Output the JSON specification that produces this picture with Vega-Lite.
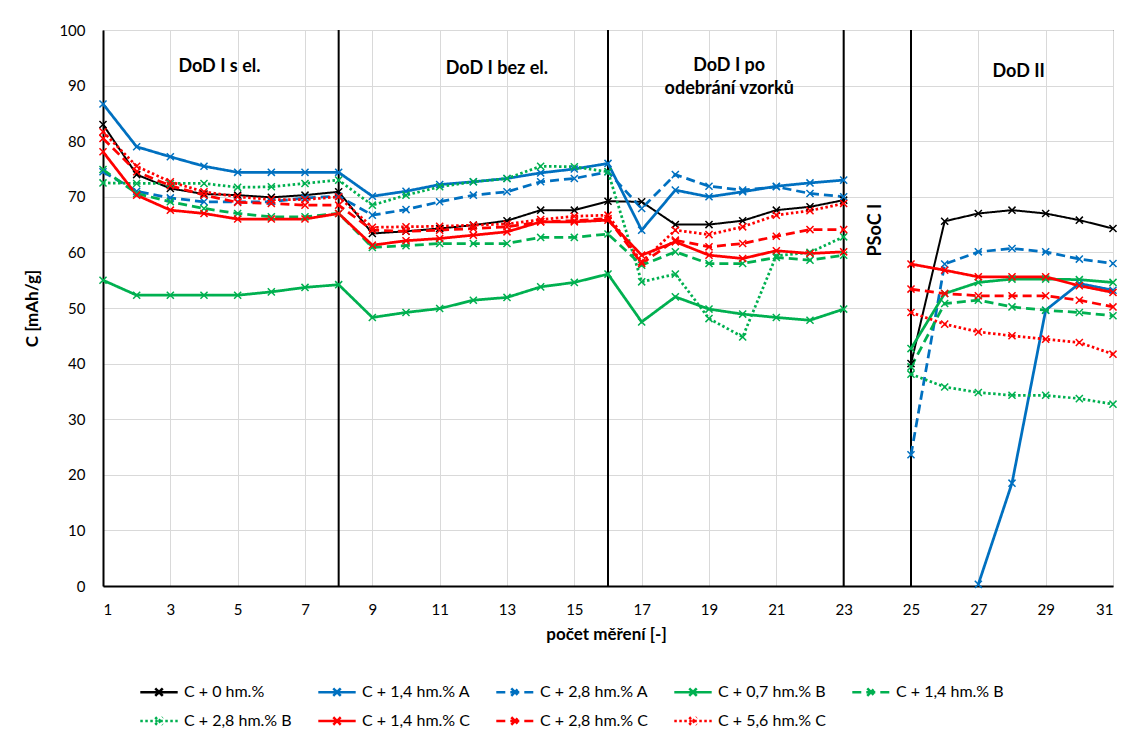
{
  "$schema": "https://vega.github.io/schema/vega-lite/v6.json",
  "width": 1010,
  "height": 556,
  "autosize": {"type": "none"},
  "padding": {"left": 103, "top": 30, "right": 16, "bottom": 150},
  "background": "white",
  "config": {
    "font": "Lato",
    "view": {"stroke": "#000", "strokeWidth": 1},
    "axis": {
      "labelFont": "Lato", "labelFontSize": 15, "labelColor": "#000",
      "titleFont": "Lato", "titleFontSize": 17, "titleFontWeight": "bold", "titleColor": "#000",
      "gridColor": "#D9D9D9", "gridWidth": 1, "domainColor": "#000", "domainWidth": 2, "ticks": false
    }
  },
  "layer": [
    {
      "data": {"values": [{"x": 8}, {"x": 16}, {"x": 23}, {"x": 25}]},
      "mark": {"type": "rule", "color": "#000", "strokeWidth": 2},
      "encoding": {"x": {"field": "x", "type": "quantitative", "scale": {"domain": [1, 31], "nice": false, "zero": false}}}
    },
    {
      "data": {"values": [
        {"s":"C + 0 hm.%","x":1,"y":83},{"s":"C + 0 hm.%","x":2,"y":74},{"s":"C + 0 hm.%","x":3,"y":71.5},{"s":"C + 0 hm.%","x":4,"y":70.5},{"s":"C + 0 hm.%","x":5,"y":70.3},{"s":"C + 0 hm.%","x":6,"y":69.9},{"s":"C + 0 hm.%","x":7,"y":70.3},{"s":"C + 0 hm.%","x":8,"y":70.9},{"s":"C + 0 hm.%","x":9,"y":63.4},{"s":"C + 0 hm.%","x":10,"y":63.8},{"s":"C + 0 hm.%","x":11,"y":64.3},{"s":"C + 0 hm.%","x":12,"y":64.9},{"s":"C + 0 hm.%","x":13,"y":65.7},{"s":"C + 0 hm.%","x":14,"y":67.6},{"s":"C + 0 hm.%","x":15,"y":67.6},{"s":"C + 0 hm.%","x":16,"y":69.2},{"s":"C + 0 hm.%","x":17,"y":69.1},{"s":"C + 0 hm.%","x":18,"y":65},{"s":"C + 0 hm.%","x":19,"y":65},{"s":"C + 0 hm.%","x":20,"y":65.7},{"s":"C + 0 hm.%","x":21,"y":67.6},{"s":"C + 0 hm.%","x":22,"y":68.2},{"s":"C + 0 hm.%","x":23,"y":69.4},{"s":"C + 0 hm.%","x":24,"y":null},{"s":"C + 0 hm.%","x":25,"y":40},{"s":"C + 0 hm.%","x":26,"y":65.6},{"s":"C + 0 hm.%","x":27,"y":67},{"s":"C + 0 hm.%","x":28,"y":67.6},{"s":"C + 0 hm.%","x":29,"y":67},{"s":"C + 0 hm.%","x":30,"y":65.8},{"s":"C + 0 hm.%","x":31,"y":64.3},
        {"s":"C + 1,4 hm.% A","x":1,"y":86.7},{"s":"C + 1,4 hm.% A","x":2,"y":79},{"s":"C + 1,4 hm.% A","x":3,"y":77.2},{"s":"C + 1,4 hm.% A","x":4,"y":75.5},{"s":"C + 1,4 hm.% A","x":5,"y":74.4},{"s":"C + 1,4 hm.% A","x":6,"y":74.4},{"s":"C + 1,4 hm.% A","x":7,"y":74.4},{"s":"C + 1,4 hm.% A","x":8,"y":74.4},{"s":"C + 1,4 hm.% A","x":9,"y":70.1},{"s":"C + 1,4 hm.% A","x":10,"y":71},{"s":"C + 1,4 hm.% A","x":11,"y":72.2},{"s":"C + 1,4 hm.% A","x":12,"y":72.7},{"s":"C + 1,4 hm.% A","x":13,"y":73.3},{"s":"C + 1,4 hm.% A","x":14,"y":74.3},{"s":"C + 1,4 hm.% A","x":15,"y":75},{"s":"C + 1,4 hm.% A","x":16,"y":76},{"s":"C + 1,4 hm.% A","x":17,"y":64},{"s":"C + 1,4 hm.% A","x":18,"y":71.2},{"s":"C + 1,4 hm.% A","x":19,"y":70},{"s":"C + 1,4 hm.% A","x":20,"y":70.9},{"s":"C + 1,4 hm.% A","x":21,"y":71.9},{"s":"C + 1,4 hm.% A","x":22,"y":72.5},{"s":"C + 1,4 hm.% A","x":23,"y":73},{"s":"C + 1,4 hm.% A","x":24,"y":null},{"s":"C + 1,4 hm.% A","x":25,"y":null},{"s":"C + 1,4 hm.% A","x":26,"y":null},{"s":"C + 1,4 hm.% A","x":27,"y":0.3},{"s":"C + 1,4 hm.% A","x":28,"y":18.5},{"s":"C + 1,4 hm.% A","x":29,"y":49.6},{"s":"C + 1,4 hm.% A","x":30,"y":54.4},{"s":"C + 1,4 hm.% A","x":31,"y":53.2},
        {"s":"C + 2,8 hm.% A","x":1,"y":74.5},{"s":"C + 2,8 hm.% A","x":2,"y":71},{"s":"C + 2,8 hm.% A","x":3,"y":69.8},{"s":"C + 2,8 hm.% A","x":4,"y":69.1},{"s":"C + 2,8 hm.% A","x":5,"y":69.1},{"s":"C + 2,8 hm.% A","x":6,"y":69.1},{"s":"C + 2,8 hm.% A","x":7,"y":69.8},{"s":"C + 2,8 hm.% A","x":8,"y":70.1},{"s":"C + 2,8 hm.% A","x":9,"y":66.7},{"s":"C + 2,8 hm.% A","x":10,"y":67.7},{"s":"C + 2,8 hm.% A","x":11,"y":69.1},{"s":"C + 2,8 hm.% A","x":12,"y":70.3},{"s":"C + 2,8 hm.% A","x":13,"y":70.9},{"s":"C + 2,8 hm.% A","x":14,"y":72.7},{"s":"C + 2,8 hm.% A","x":15,"y":73.3},{"s":"C + 2,8 hm.% A","x":16,"y":74.5},{"s":"C + 2,8 hm.% A","x":17,"y":67.9},{"s":"C + 2,8 hm.% A","x":18,"y":74},{"s":"C + 2,8 hm.% A","x":19,"y":71.9},{"s":"C + 2,8 hm.% A","x":20,"y":71.2},{"s":"C + 2,8 hm.% A","x":21,"y":71.8},{"s":"C + 2,8 hm.% A","x":22,"y":70.6},{"s":"C + 2,8 hm.% A","x":23,"y":70},{"s":"C + 2,8 hm.% A","x":24,"y":null},{"s":"C + 2,8 hm.% A","x":25,"y":23.6},{"s":"C + 2,8 hm.% A","x":26,"y":57.9},{"s":"C + 2,8 hm.% A","x":27,"y":60.1},{"s":"C + 2,8 hm.% A","x":28,"y":60.7},{"s":"C + 2,8 hm.% A","x":29,"y":60.1},{"s":"C + 2,8 hm.% A","x":30,"y":58.8},{"s":"C + 2,8 hm.% A","x":31,"y":58},
        {"s":"C + 0,7 hm.% B","x":1,"y":55},{"s":"C + 0,7 hm.% B","x":2,"y":52.3},{"s":"C + 0,7 hm.% B","x":3,"y":52.3},{"s":"C + 0,7 hm.% B","x":4,"y":52.3},{"s":"C + 0,7 hm.% B","x":5,"y":52.3},{"s":"C + 0,7 hm.% B","x":6,"y":52.9},{"s":"C + 0,7 hm.% B","x":7,"y":53.7},{"s":"C + 0,7 hm.% B","x":8,"y":54.2},{"s":"C + 0,7 hm.% B","x":9,"y":48.3},{"s":"C + 0,7 hm.% B","x":10,"y":49.2},{"s":"C + 0,7 hm.% B","x":11,"y":49.9},{"s":"C + 0,7 hm.% B","x":12,"y":51.4},{"s":"C + 0,7 hm.% B","x":13,"y":51.9},{"s":"C + 0,7 hm.% B","x":14,"y":53.8},{"s":"C + 0,7 hm.% B","x":15,"y":54.6},{"s":"C + 0,7 hm.% B","x":16,"y":56.1},{"s":"C + 0,7 hm.% B","x":17,"y":47.5},{"s":"C + 0,7 hm.% B","x":18,"y":52},{"s":"C + 0,7 hm.% B","x":19,"y":49.8},{"s":"C + 0,7 hm.% B","x":20,"y":48.9},{"s":"C + 0,7 hm.% B","x":21,"y":48.3},{"s":"C + 0,7 hm.% B","x":22,"y":47.8},{"s":"C + 0,7 hm.% B","x":23,"y":49.8},{"s":"C + 0,7 hm.% B","x":24,"y":null},{"s":"C + 0,7 hm.% B","x":25,"y":42.7},{"s":"C + 0,7 hm.% B","x":26,"y":52.6},{"s":"C + 0,7 hm.% B","x":27,"y":54.6},{"s":"C + 0,7 hm.% B","x":28,"y":55.2},{"s":"C + 0,7 hm.% B","x":29,"y":55.2},{"s":"C + 0,7 hm.% B","x":30,"y":55.1},{"s":"C + 0,7 hm.% B","x":31,"y":54.6},
        {"s":"C + 1,4 hm.% B","x":1,"y":74.9},{"s":"C + 1,4 hm.% B","x":2,"y":70.6},{"s":"C + 1,4 hm.% B","x":3,"y":69.1},{"s":"C + 1,4 hm.% B","x":4,"y":67.9},{"s":"C + 1,4 hm.% B","x":5,"y":67},{"s":"C + 1,4 hm.% B","x":6,"y":66.4},{"s":"C + 1,4 hm.% B","x":7,"y":66.4},{"s":"C + 1,4 hm.% B","x":8,"y":67},{"s":"C + 1,4 hm.% B","x":9,"y":60.9},{"s":"C + 1,4 hm.% B","x":10,"y":61.2},{"s":"C + 1,4 hm.% B","x":11,"y":61.6},{"s":"C + 1,4 hm.% B","x":12,"y":61.6},{"s":"C + 1,4 hm.% B","x":13,"y":61.6},{"s":"C + 1,4 hm.% B","x":14,"y":62.7},{"s":"C + 1,4 hm.% B","x":15,"y":62.7},{"s":"C + 1,4 hm.% B","x":16,"y":63.3},{"s":"C + 1,4 hm.% B","x":17,"y":57.7},{"s":"C + 1,4 hm.% B","x":18,"y":60.1},{"s":"C + 1,4 hm.% B","x":19,"y":58},{"s":"C + 1,4 hm.% B","x":20,"y":58},{"s":"C + 1,4 hm.% B","x":21,"y":59.1},{"s":"C + 1,4 hm.% B","x":22,"y":58.6},{"s":"C + 1,4 hm.% B","x":23,"y":59.5},{"s":"C + 1,4 hm.% B","x":24,"y":null},{"s":"C + 1,4 hm.% B","x":25,"y":39.4},{"s":"C + 1,4 hm.% B","x":26,"y":50.8},{"s":"C + 1,4 hm.% B","x":27,"y":51.4},{"s":"C + 1,4 hm.% B","x":28,"y":50.2},{"s":"C + 1,4 hm.% B","x":29,"y":49.6},{"s":"C + 1,4 hm.% B","x":30,"y":49.2},{"s":"C + 1,4 hm.% B","x":31,"y":48.6},
        {"s":"C + 2,8 hm.% B","x":1,"y":72.5},{"s":"C + 2,8 hm.% B","x":2,"y":72.4},{"s":"C + 2,8 hm.% B","x":3,"y":72.4},{"s":"C + 2,8 hm.% B","x":4,"y":72.4},{"s":"C + 2,8 hm.% B","x":5,"y":71.7},{"s":"C + 2,8 hm.% B","x":6,"y":71.8},{"s":"C + 2,8 hm.% B","x":7,"y":72.4},{"s":"C + 2,8 hm.% B","x":8,"y":73},{"s":"C + 2,8 hm.% B","x":9,"y":68.5},{"s":"C + 2,8 hm.% B","x":10,"y":70.3},{"s":"C + 2,8 hm.% B","x":11,"y":71.8},{"s":"C + 2,8 hm.% B","x":12,"y":72.7},{"s":"C + 2,8 hm.% B","x":13,"y":73.3},{"s":"C + 2,8 hm.% B","x":14,"y":75.5},{"s":"C + 2,8 hm.% B","x":15,"y":75.4},{"s":"C + 2,8 hm.% B","x":16,"y":74.5},{"s":"C + 2,8 hm.% B","x":17,"y":54.7},{"s":"C + 2,8 hm.% B","x":18,"y":56.1},{"s":"C + 2,8 hm.% B","x":19,"y":48.1},{"s":"C + 2,8 hm.% B","x":20,"y":44.8},{"s":"C + 2,8 hm.% B","x":21,"y":59.4},{"s":"C + 2,8 hm.% B","x":22,"y":60},{"s":"C + 2,8 hm.% B","x":23,"y":62.8},{"s":"C + 2,8 hm.% B","x":24,"y":null},{"s":"C + 2,8 hm.% B","x":25,"y":38.1},{"s":"C + 2,8 hm.% B","x":26,"y":35.8},{"s":"C + 2,8 hm.% B","x":27,"y":34.8},{"s":"C + 2,8 hm.% B","x":28,"y":34.3},{"s":"C + 2,8 hm.% B","x":29,"y":34.3},{"s":"C + 2,8 hm.% B","x":30,"y":33.7},{"s":"C + 2,8 hm.% B","x":31,"y":32.7},
        {"s":"C + 1,4 hm.% C","x":1,"y":78.1},{"s":"C + 1,4 hm.% C","x":2,"y":70.3},{"s":"C + 1,4 hm.% C","x":3,"y":67.6},{"s":"C + 1,4 hm.% C","x":4,"y":67},{"s":"C + 1,4 hm.% C","x":5,"y":66},{"s":"C + 1,4 hm.% C","x":6,"y":66},{"s":"C + 1,4 hm.% C","x":7,"y":66},{"s":"C + 1,4 hm.% C","x":8,"y":67},{"s":"C + 1,4 hm.% C","x":9,"y":61.3},{"s":"C + 1,4 hm.% C","x":10,"y":62.1},{"s":"C + 1,4 hm.% C","x":11,"y":62.5},{"s":"C + 1,4 hm.% C","x":12,"y":63.1},{"s":"C + 1,4 hm.% C","x":13,"y":63.7},{"s":"C + 1,4 hm.% C","x":14,"y":65.5},{"s":"C + 1,4 hm.% C","x":15,"y":65.5},{"s":"C + 1,4 hm.% C","x":16,"y":65.8},{"s":"C + 1,4 hm.% C","x":17,"y":59.5},{"s":"C + 1,4 hm.% C","x":18,"y":61.9},{"s":"C + 1,4 hm.% C","x":19,"y":59.5},{"s":"C + 1,4 hm.% C","x":20,"y":58.9},{"s":"C + 1,4 hm.% C","x":21,"y":60.3},{"s":"C + 1,4 hm.% C","x":22,"y":59.8},{"s":"C + 1,4 hm.% C","x":23,"y":60.1},{"s":"C + 1,4 hm.% C","x":24,"y":null},{"s":"C + 1,4 hm.% C","x":25,"y":57.9},{"s":"C + 1,4 hm.% C","x":26,"y":56.8},{"s":"C + 1,4 hm.% C","x":27,"y":55.6},{"s":"C + 1,4 hm.% C","x":28,"y":55.6},{"s":"C + 1,4 hm.% C","x":29,"y":55.6},{"s":"C + 1,4 hm.% C","x":30,"y":54},{"s":"C + 1,4 hm.% C","x":31,"y":52.8},
        {"s":"C + 2,8 hm.% C","x":1,"y":80.5},{"s":"C + 2,8 hm.% C","x":2,"y":74.5},{"s":"C + 2,8 hm.% C","x":3,"y":72},{"s":"C + 2,8 hm.% C","x":4,"y":70.3},{"s":"C + 2,8 hm.% C","x":5,"y":69},{"s":"C + 2,8 hm.% C","x":6,"y":68.8},{"s":"C + 2,8 hm.% C","x":7,"y":68.5},{"s":"C + 2,8 hm.% C","x":8,"y":68.5},{"s":"C + 2,8 hm.% C","x":9,"y":64},{"s":"C + 2,8 hm.% C","x":10,"y":63.8},{"s":"C + 2,8 hm.% C","x":11,"y":64},{"s":"C + 2,8 hm.% C","x":12,"y":64.3},{"s":"C + 2,8 hm.% C","x":13,"y":64.6},{"s":"C + 2,8 hm.% C","x":14,"y":65.5},{"s":"C + 2,8 hm.% C","x":15,"y":65.7},{"s":"C + 2,8 hm.% C","x":16,"y":66.1},{"s":"C + 2,8 hm.% C","x":17,"y":58},{"s":"C + 2,8 hm.% C","x":18,"y":62.2},{"s":"C + 2,8 hm.% C","x":19,"y":61},{"s":"C + 2,8 hm.% C","x":20,"y":61.6},{"s":"C + 2,8 hm.% C","x":21,"y":62.9},{"s":"C + 2,8 hm.% C","x":22,"y":64.1},{"s":"C + 2,8 hm.% C","x":23,"y":64.1},{"s":"C + 2,8 hm.% C","x":24,"y":null},{"s":"C + 2,8 hm.% C","x":25,"y":53.4},{"s":"C + 2,8 hm.% C","x":26,"y":52.6},{"s":"C + 2,8 hm.% C","x":27,"y":52.2},{"s":"C + 2,8 hm.% C","x":28,"y":52.2},{"s":"C + 2,8 hm.% C","x":29,"y":52.2},{"s":"C + 2,8 hm.% C","x":30,"y":51.4},{"s":"C + 2,8 hm.% C","x":31,"y":50.2},
        {"s":"C + 5,6 hm.% C","x":1,"y":81.7},{"s":"C + 5,6 hm.% C","x":2,"y":75.5},{"s":"C + 5,6 hm.% C","x":3,"y":72.7},{"s":"C + 5,6 hm.% C","x":4,"y":70.9},{"s":"C + 5,6 hm.% C","x":5,"y":70},{"s":"C + 5,6 hm.% C","x":6,"y":69.5},{"s":"C + 5,6 hm.% C","x":7,"y":69.5},{"s":"C + 5,6 hm.% C","x":8,"y":70},{"s":"C + 5,6 hm.% C","x":9,"y":64.5},{"s":"C + 5,6 hm.% C","x":10,"y":64.6},{"s":"C + 5,6 hm.% C","x":11,"y":64.7},{"s":"C + 5,6 hm.% C","x":12,"y":64.9},{"s":"C + 5,6 hm.% C","x":13,"y":65.1},{"s":"C + 5,6 hm.% C","x":14,"y":65.9},{"s":"C + 5,6 hm.% C","x":15,"y":66.5},{"s":"C + 5,6 hm.% C","x":16,"y":66.7},{"s":"C + 5,6 hm.% C","x":17,"y":58.3},{"s":"C + 5,6 hm.% C","x":18,"y":64},{"s":"C + 5,6 hm.% C","x":19,"y":63.2},{"s":"C + 5,6 hm.% C","x":20,"y":64.6},{"s":"C + 5,6 hm.% C","x":21,"y":66.7},{"s":"C + 5,6 hm.% C","x":22,"y":67.5},{"s":"C + 5,6 hm.% C","x":23,"y":68.8},{"s":"C + 5,6 hm.% C","x":24,"y":null},{"s":"C + 5,6 hm.% C","x":25,"y":49.2},{"s":"C + 5,6 hm.% C","x":26,"y":47.1},{"s":"C + 5,6 hm.% C","x":27,"y":45.7},{"s":"C + 5,6 hm.% C","x":28,"y":45},{"s":"C + 5,6 hm.% C","x":29,"y":44.4},{"s":"C + 5,6 hm.% C","x":30,"y":43.8},{"s":"C + 5,6 hm.% C","x":31,"y":41.7}
      ]},
      "encoding": {
        "x": {"field": "x", "type": "quantitative", "scale": {"domain": [1, 31], "nice": false, "zero": false},
              "axis": {"values": [1,3,5,7,9,11,13,15,17,19,21,23,25,27,29,31], "title": "počet měření [-]", "grid": true, "labelPadding": 16, "titleX": 503, "titleY": 48, "titleBaseline": "middle", "titleAlign": "center"}},
        "y": {"field": "y", "type": "quantitative", "scale": {"domain": [0, 100], "nice": false},
              "axis": {"values": [0,10,20,30,40,50,60,70,80,90,100], "title": "C [mAh/g]", "grid": true, "labelPadding": 18, "titleX": -71, "titleY": 278, "titleAngle": 270, "titleBaseline": "middle", "titleAlign": "center"}},
        "color": {"field": "s", "type": "nominal",
          "scale": {"domain": ["C + 0 hm.%","C + 1,4 hm.% A","C + 2,8 hm.% A","C + 0,7 hm.% B","C + 1,4 hm.% B","C + 2,8 hm.% B","C + 1,4 hm.% C","C + 2,8 hm.% C","C + 5,6 hm.% C"],
                    "range": ["#000000","#0070C0","#0070C0","#00B050","#00B050","#00B050","#FF0000","#FF0000","#FF0000"]},
          "legend": {"title": null, "orient": "none", "legendX": 45, "legendY": 651, "direction": "horizontal", "columns": 5, "gridAlign": "all", "columnPadding": 20, "rowPadding": 9,
                     "symbolType": "M-2,0H2M-0.4,-0.4L0.4,0.4M-0.4,0.4L0.4,-0.4", "symbolSize": 350, "symbolStrokeWidth": 2.5, "symbolFillColor": "transparent",
                     "labelFont": "Lato", "labelFontSize": 16, "labelColor": "#000", "labelOffset": 14}}
      },
      "layer": [
        {
          "mark": {"type": "line", "invalid": "break-paths-filter-domains"},
          "encoding": {
            "strokeDash": {"field": "s", "type": "nominal",
              "scale": {"domain": ["C + 0 hm.%","C + 1,4 hm.% A","C + 2,8 hm.% A","C + 0,7 hm.% B","C + 1,4 hm.% B","C + 2,8 hm.% B","C + 1,4 hm.% C","C + 2,8 hm.% C","C + 5,6 hm.% C"],
                        "range": [[1,0],[1,0],[9,5],[1,0],[9,5],[2.5,2.5],[1,0],[9,5],[2.5,2.5]]},
              "legend": {"title": null, "orient": "none", "legendX": 45, "legendY": 651, "direction": "horizontal", "columns": 5, "gridAlign": "all", "columnPadding": 20, "rowPadding": 9,
                     "symbolType": "M-2,0H2M-0.4,-0.4L0.4,0.4M-0.4,0.4L0.4,-0.4", "symbolSize": 350, "symbolStrokeWidth": 2.5, "symbolFillColor": "transparent",
                     "labelFont": "Lato", "labelFontSize": 16, "labelColor": "#000", "labelOffset": 14}},
            "strokeWidth": {"condition": {"test": "datum.s === 'C + 0 hm.%'", "value": 2}, "value": 2.75}
          }
        },
        {
          "mark": {"type": "point", "shape": "M-1,-1L1,1M-1,1L1,-1", "size": 50, "filled": false, "strokeWidth": 1.5, "opacity": 1}
        }
      ]
    },
    {
      "data": {"values": [
        {"t": "DoD I s el.", "x": 4.46, "y": 93.3},
        {"t": "DoD I bez el.", "x": 12.7, "y": 93.0},
        {"t": "DoD I po", "x": 19.6, "y": 93.6},
        {"t": "odebrání vzorků", "x": 19.6, "y": 89.4},
        {"t": "DoD II", "x": 28.2, "y": 92.4}
      ]},
      "mark": {"type": "text", "font": "Lato", "fontSize": 18, "fontWeight": "bold", "color": "#000", "align": "center", "baseline": "middle"},
      "encoding": {
        "x": {"field": "x", "type": "quantitative"},
        "y": {"field": "y", "type": "quantitative"},
        "text": {"field": "t", "type": "nominal"}
      }
    },
    {
      "data": {"values": [{"t": "PSoC I", "x": 23.96, "y": 64}]},
      "mark": {"type": "text", "font": "Lato", "fontSize": 18, "fontWeight": "bold", "color": "#000", "align": "center", "baseline": "middle", "angle": 270},
      "encoding": {
        "x": {"field": "x", "type": "quantitative"},
        "y": {"field": "y", "type": "quantitative"},
        "text": {"field": "t", "type": "nominal"}
      }
    }
  ]
}
